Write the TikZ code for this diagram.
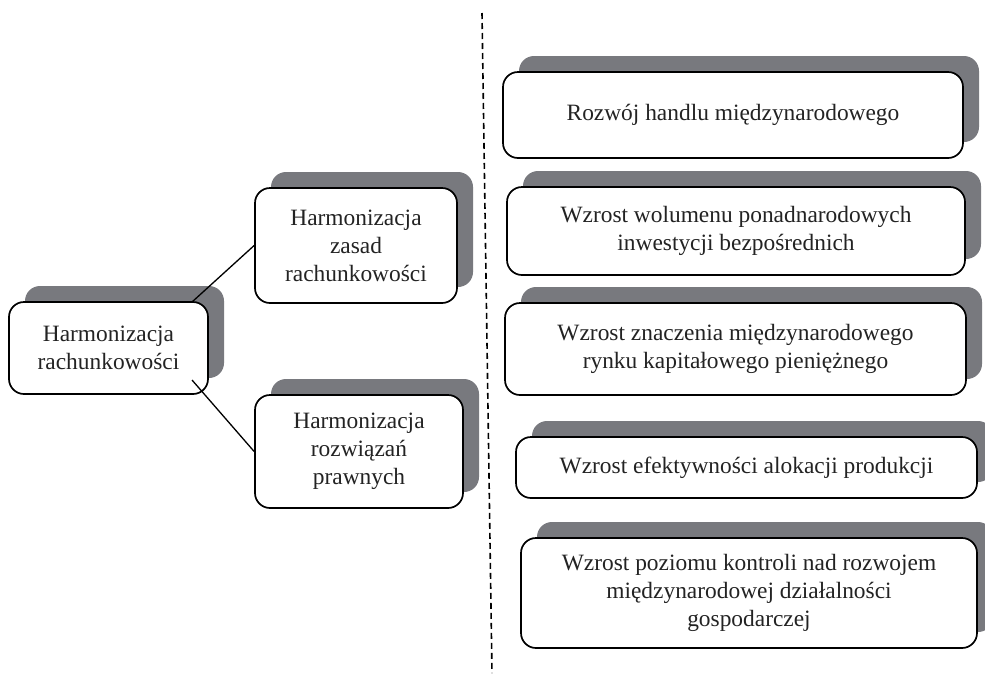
\documentclass[tikz,border=0pt]{standalone}
\usepackage{fontspec}
\setmainfont{Liberation Serif}
\usetikzlibrary{shadows}
\definecolor{shgray}{RGB}{120,121,126}
\definecolor{txt}{RGB}{35,35,35}
\tikzset{
  boxnode/.style={draw=black, line width=1.7pt, rounded corners=15pt, fill=white,
    align=center, text=txt, inner sep=0pt,
    font=\fontsize{23.4}{28}\selectfont,
    copy shadow={shadow xshift=16pt, shadow yshift=16pt, draw=none, fill=shgray}},
  link/.style={line width=1.3pt, black},
  divider/.style={line width=1.6pt, dash pattern=on 6pt off 4pt}
}
\newcommand{\bx}[6]{% name, x1,y1,x2,y2, text
  \node[boxnode, minimum width=#4-#2, minimum height=#5-#3] (#1) at ({(#2+#4)/2},{(#3+#5)/2}) {#6};}
\begin{document}
\begin{tikzpicture}[x=1pt,y=-1pt]
\useasboundingbox (0,0) rectangle (985,673);
\fill[white] (0,0) rectangle (985,673);
% divider
\coordinate (dtop) at (482,13);
\coordinate (dbot) at (492,673);
\draw[divider] (dtop) -- (dbot);
% left part
\bx{main}{9}{302}{208}{394}{Harmonizacja\\rachunkowości}
\bx{zasad}{255}{188}{457}{303}{Harmonizacja\\zasad\\rachunkowości}
\bx{praw}{255}{395}{463}{508}{Harmonizacja\\rozwiązań\\prawnych}
\coordinate (m1) at (192,302);
\coordinate (m2) at (192,380);
\draw[link] (m1) -- (zasad.west);
\draw[link] (m2) -- (praw.west);
% right part
\bx{r1}{503}{72}{963}{158}{Rozwój handlu międzynarodowego}
\bx{r2}{507}{187}{965}{275}{Wzrost wolumenu ponadnarodowych\\inwestycji bezpośrednich}
\bx{r3}{505}{303}{966}{395}{Wzrost znaczenia międzynarodowego\\rynku kapitałowego pieniężnego}
\bx{r4}{516}{437}{977}{498}{Wzrost efektywności alokacji produkcji}
\bx{r5}{521}{538}{977}{648}{Wzrost poziomu kontroli nad rozwojem\\międzynarodowej działalności\\gospodarczej}
\end{tikzpicture}
\end{document}
